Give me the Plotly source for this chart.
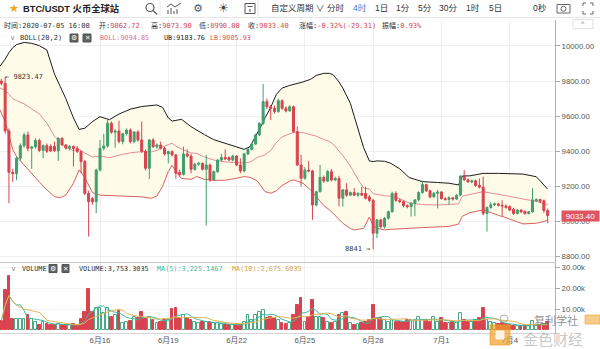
import plotly.graph_objects as go
import pandas as pd

W, H = 600, 349
MONO = "DejaVu Sans Mono, Noto Sans CJK SC, monospace"
SANS = "Liberation Sans, Noto Sans CJK SC, sans-serif"
UP = "#3f9f6d"
DOWN = "#d8434f"
VOL_UP_LINE = "#4aaa85"
MA5_C = "#3dbb9f"
MA10_C = "#e2b458"
UB_C = "#1c1c1c"
MID_C = "#e58c9c"
LB_C = "#d9605f"
FILL = "#fefbe8"
GRID = "#efefef"

# ---------------- data (4h candles, index -1 = 2020-06-11 16:00) ----------------
candle_idx = list(range(-1, 144))
opens = [
    9800, 9787, 9516, 9280, 9272, 9360, 9432, 9493, 9417, 9425,
    9462, 9405, 9432, 9428, 9428, 9402, 9474, 9436, 9418, 9428,
    9416, 9398, 9341, 9160, 9130, 9112, 9293, 9417, 9430, 9560,
    9509, 9515, 9455, 9500, 9521, 9455, 9510, 9464, 9400, 9303,
    9464, 9426, 9436, 9417, 9385, 9398, 9379, 9280, 9268, 9385,
    9373, 9297, 9326, 9331, 9297, 9322, 9237, 9284, 9350, 9365,
    9365, 9350, 9373, 9322, 9288, 9385, 9411, 9441, 9493, 9559,
    9683, 9654, 9645, 9626, 9688, 9645, 9630, 9654, 9512, 9322,
    9246, 9293, 9288, 9094, 9170, 9251, 9230, 9284, 9236, 9245,
    9132, 9180, 9150, 9165, 9150, 9160, 9160, 9140, 9120, 8933,
    9009, 8970, 9018, 9056, 9160, 9120, 9113, 9090, 9085, 9104,
    9123, 9165, 9210, 9175, 9140, 9160, 9168, 9130, 9125, 9135,
    9128, 9150, 9259, 9237, 9225, 9232, 9205, 9195, 9045, 9080,
    9095, 9100, 9092, 9088, 9085, 9070, 9045, 9065, 9058, 9045,
    9055, 9118, 9125, 9118, 9062.72,
]
highs = [
    9812, 9823.47, 9530, 9300, 9370, 9445, 9505, 9512, 9430, 9475,
    9472, 9440, 9445, 9440, 9455, 9480, 9480, 9442, 9435, 9432,
    9430, 9405, 9350, 9175, 9140, 9300, 9465, 9500, 9578, 9570,
    9525, 9574, 9505, 9530, 9530, 9515, 9520, 9569, 9410, 9470,
    9475, 9445, 9455, 9425, 9405, 9405, 9385, 9295, 9427, 9411,
    9385, 9335, 9340, 9336, 9380, 9330, 9290, 9356, 9385, 9411,
    9370, 9380, 9378, 9360, 9392, 9418, 9448, 9500, 9566, 9783,
    9700, 9664, 9660, 9700, 9695, 9655, 9662, 9660, 9540, 9380,
    9310, 9345, 9295, 9175, 9322, 9262, 9293, 9300, 9255, 9260,
    9185, 9218, 9172, 9190, 9165, 9198, 9198, 9150, 9130, 9015,
    9015, 9025, 9062, 9170, 9172, 9130, 9120, 9098, 9110, 9128,
    9172, 9232, 9215, 9180, 9168, 9180, 9172, 9138, 9142, 9140,
    9155, 9262, 9293, 9245, 9238, 9238, 9245, 9255, 9085, 9110,
    9108, 9106, 9120, 9096, 9092, 9078, 9070, 9070, 9062, 9060,
    9189, 9132, 9130, 9125, 9073.90,
]
lows = [
    9775, 9500, 9104, 9225, 9235, 9345, 9420, 9400, 9300, 9415,
    9395, 9360, 9390, 9395, 9395, 9345, 9430, 9410, 9405, 9313,
    9390, 9275, 9150, 8914, 9095, 9047, 9285, 9405, 9420, 9500,
    9420, 9445, 9440, 9490, 9445, 9445, 9455, 9390, 9290, 9242,
    9420, 9415, 9410, 9375, 9331, 9370, 9245, 9255, 9262, 9365,
    9275, 9290, 9318, 9290, 8976, 9225, 9230, 9278, 9340, 9350,
    9345, 9342, 9315, 9275, 9280, 9378, 9405, 9435, 9486, 9550,
    9640, 9578, 9615, 9620, 9635, 9622, 9625, 9505, 9315, 9199,
    9238, 9280, 9009, 9085, 9165, 9220, 9225, 9228, 9230, 9085,
    9085, 9140, 9145, 9145, 9140, 9145, 9125, 9110, 8841, 8905,
    8960, 8960, 9010, 9050, 9112, 9105, 9080, 9075, 9028, 9030,
    9115, 9158, 9168, 9132, 9135, 9075, 9125, 9118, 9095, 9118,
    9122, 9145, 9230, 9220, 9218, 9198, 9188, 9035, 8942, 9072,
    9088, 9085, 9030, 9072, 9058, 9038, 9040, 9048, 9038, 9040,
    9050, 9110, 9105, 9050, 8990.00,
]
closes = [
    9787, 9516, 9280, 9272, 9360, 9432, 9493, 9417, 9425, 9462,
    9405, 9432, 9400, 9402, 9404, 9474, 9436, 9418, 9428, 9416,
    9398, 9341, 9160, 9113, 9112, 9293, 9417, 9430, 9560, 9509,
    9515, 9455, 9500, 9521, 9455, 9510, 9464, 9400, 9303, 9464,
    9426, 9436, 9417, 9385, 9398, 9379, 9275, 9268, 9385, 9373,
    9297, 9326, 9331, 9297, 9322, 9237, 9284, 9350, 9365, 9356,
    9350, 9373, 9322, 9288, 9385, 9411, 9441, 9493, 9559, 9683,
    9654, 9645, 9626, 9688, 9645, 9630, 9654, 9512, 9322, 9246,
    9293, 9288, 9094, 9170, 9251, 9230, 9284, 9236, 9245, 9132,
    9180, 9150, 9165, 9150, 9160, 9150, 9132, 9120, 8933, 9009,
    8970, 9018, 9056, 9160, 9120, 9113, 9090, 9085, 9104, 9123,
    9165, 9210, 9175, 9140, 9160, 9168, 9130, 9125, 9135, 9128,
    9150, 9259, 9237, 9225, 9232, 9205, 9195, 9045, 9080, 9095,
    9100, 9092, 9088, 9080, 9065, 9045, 9065, 9055, 9045, 9055,
    9123, 9125, 9115, 9062.72, 9033.40,
]
volumes = [
    4600, 19200, 25900, 5200, 5200, 5200, 5200, 7300, 5200, 4100,
    2500, 4100, 3000, 2500, 2500, 3000, 2500, 2500, 2500, 3000,
    2100, 5200, 8900, 19500, 8900, 10500, 10500, 8100, 10500, 6500,
    7300, 9400, 3300, 4100, 4600, 6500, 5700, 8900, 5200, 6500,
    4900, 3300, 4100, 4900, 4900, 10000, 10500, 5700, 7300, 5700,
    4900, 4100, 3300, 4100, 4100, 4100, 3300, 3300, 3000, 2500,
    2500, 2500, 3000, 2500, 4100, 7300, 4900, 7300, 8900, 9700,
    5700, 6500, 5700, 4900, 3300, 3000, 3300, 7300, 12000, 15200,
    4100, 6500, 14400, 6500, 6500, 5700, 4100, 3700, 4100, 7300,
    8000, 8900, 3300, 2500, 3000, 3300, 4100, 4900, 12100, 5700,
    5700, 4900, 4100, 4900, 4100, 4100, 4100, 4900, 4900, 4900,
    6500, 4900, 4900, 4100, 6500, 4100, 5700, 3300, 3300, 4100,
    3300, 8100, 4900, 4100, 4100, 4900, 5700, 10500, 4900, 4100,
    3300, 3000, 3500, 2800, 2600, 2000, 2200, 2000, 2300, 2100,
    4500, 2500, 2200, 3200, 3753.3035,
]

# Bollinger band values at sample candle positions
boll_idx = [-1.35, 0, 1, 2, 3, 5, 7, 9, 11, 13, 14.5, 16, 18, 19.5, 21, 23, 25, 27.5, 30, 33,
            36, 38.5, 40, 41.5, 43, 44, 45.3, 46.5, 49, 50.5, 52.5, 55, 58, 61, 63, 64.5,
            66.5, 67.5, 68.5, 70, 71.5, 73, 75, 76, 78.5, 80.5, 82, 84, 85.5, 86.5, 88, 89,
            91, 92, 93, 94.5, 96, 97, 98, 100, 101.5, 104, 106.5, 110, 114, 117, 119.5,
            120.5, 122.5, 126, 130, 131.5, 136.5, 140, 143]
boll_ub = [9885, 9925, 9962, 9990, 10008, 10020, 10015, 10002, 9977, 9840, 9770, 9700, 9590, 9525,
           9531, 9569, 9597, 9580, 9612, 9640, 9655, 9660, 9664, 9650, 9590, 9572, 9575, 9582,
           9540, 9520, 9495, 9466, 9445, 9425, 9411, 9425, 9500, 9545, 9590, 9650, 9725, 9760,
           9775, 9780, 9795, 9810, 9832, 9844, 9844, 9835, 9795, 9760, 9673, 9600, 9525, 9420,
           9345, 9341, 9345, 9343, 9333, 9300, 9250, 9227, 9222, 9218, 9208, 9259, 9260, 9274,
           9274, 9273, 9270, 9255, 9184]
boll_mid = [9760, 9748, 9726, 9700, 9689, 9670, 9642, 9613, 9560, 9486, 9452, 9422, 9404, 9410,
            9390, 9367, 9373, 9363, 9378, 9391, 9398, 9396, 9405, 9425, 9438, 9446, 9425, 9413,
            9390, 9388, 9367, 9350, 9340, 9335, 9333, 9338, 9365, 9372, 9380, 9405, 9450, 9482,
            9502, 9508, 9506, 9495, 9486, 9467, 9455, 9440, 9402, 9375, 9316, 9276, 9240, 9190,
            9185, 9158, 9153, 9147, 9144, 9130, 9105, 9096, 9094, 9095, 9100, 9144, 9155, 9170,
            9154, 9149, 9128, 9115, 9095]
boll_lb = [9635, 9570, 9490, 9410, 9370, 9320, 9270, 9225, 9180, 9142, 9135, 9150, 9218, 9294,
           9250, 9165, 9150, 9147, 9145, 9142, 9140, 9132, 9145, 9200, 9285, 9320, 9275, 9245,
           9240, 9256, 9240, 9234, 9235, 9246, 9256, 9252, 9230, 9200, 9170, 9161, 9175, 9205,
           9230, 9237, 9218, 9180, 9140, 9090, 9066, 9045, 9010, 8990, 8960, 8952, 8955, 8961,
           9025, 8975, 8961, 8952, 8955, 8960, 8961, 8965, 8967, 8972, 8985, 9030, 9050, 9066,
           9035, 9025, 8986, 8990, 9006]

tick_idx = [25, 43, 61, 79, 97, 115, 133]
tick_text = ["6月16", "6月19", "6月22", "6月25", "6月28", "7月1", "7月4"]
price_ticks = [8800, 9000, 9200, 9400, 9600, 9800, 10000]
price_tick_text = ["8800.00", "9000.00", "9200.00", "9400.00", "9600.00", "9800.00", "10000.00"]
vol_ticks = [10000, 20000, 30000]
vol_tick_text = ["10.00k", "20.00k", "30.00k"]

n = len(candle_idx)
assert len(opens) == n and len(highs) == n and len(lows) == n and len(closes) == n and len(volumes) == n
assert len(boll_idx) == len(boll_ub) == len(boll_mid) == len(boll_lb)

vol_series = pd.Series(volumes)
ma5 = vol_series.rolling(5, min_periods=1).mean().tolist()
ma10 = vol_series.rolling(10, min_periods=1).mean().tolist()

is_up = [c >= o for o, c in zip(opens, closes)]
bar_fill = ["#ffffff" if u else DOWN for u in is_up]
bar_line = [VOL_UP_LINE if u else DOWN for u in is_up]

PRICE_RANGE = [8769, 10148]


def px(x):
    return x / W


def py(y):
    return 1 - y / H


fig = go.Figure()

# Bollinger band: upper, lower (filled to upper), mid  -> on y2 (drawn first)
fig.add_trace(go.Scatter(x=boll_idx, y=boll_ub, xaxis="x2", yaxis="y2", mode="lines",
                         line=dict(color=UB_C, width=1), hoverinfo="skip"))
fig.add_trace(go.Scatter(x=boll_idx, y=boll_lb, xaxis="x2", yaxis="y2", mode="lines",
                         line=dict(color=LB_C, width=1), fill="tonexty", fillcolor=FILL,
                         hoverinfo="skip"))
fig.add_trace(go.Scatter(x=boll_idx, y=boll_mid, xaxis="x2", yaxis="y2", mode="lines",
                         line=dict(color=MID_C, width=1), hoverinfo="skip"))

# candles on an overlaying axis so they sit above the band fill
fig.add_trace(go.Candlestick(
    x=candle_idx, open=opens, high=highs, low=lows, close=closes,
    xaxis="x2", yaxis="y3", whiskerwidth=0,
    increasing=dict(line=dict(color=UP, width=1), fillcolor=UP),
    decreasing=dict(line=dict(color=DOWN, width=1), fillcolor=DOWN),
    hoverinfo="skip",
))

fig.add_trace(go.Bar(x=candle_idx, y=volumes, xaxis="x", yaxis="y", width=0.72,
                     marker=dict(color=bar_fill, line=dict(color=bar_line, width=1)),
                     hoverinfo="skip"))
fig.add_trace(go.Scatter(x=candle_idx, y=ma5, xaxis="x", yaxis="y", mode="lines",
                         line=dict(color=MA5_C, width=1), hoverinfo="skip"))
fig.add_trace(go.Scatter(x=candle_idx, y=ma10, xaxis="x", yaxis="y", mode="lines",
                         line=dict(color=MA10_C, width=1), hoverinfo="skip"))

tickfont = dict(family=SANS, size=7.8, color="#555")
xr = [-1.357, 144.93]

fig.update_layout(
    width=W, height=H, margin=dict(l=0, r=0, t=0, b=0),
    paper_bgcolor="white", plot_bgcolor="white", showlegend=False, boxgap=0.25,
    bargap=0,
    xaxis=dict(domain=[0, 555 / W], range=xr, anchor="y", tickmode="array",
               tickvals=tick_idx, ticktext=tick_text, showgrid=True, gridcolor=GRID,
               zeroline=False, showline=True, linecolor="#d4d4d4", ticks="",
               tickfont=tickfont, fixedrange=True),
    xaxis2=dict(domain=[0, 555 / W], matches="x", anchor="y2", tickmode="array",
                tickvals=tick_idx, showticklabels=False, showgrid=True, gridcolor=GRID,
                zeroline=False, showline=True, linecolor="#c4c4c4", ticks="",
                rangeslider=dict(visible=False)),
    yaxis=dict(domain=[py(333), py(263)], range=[-1290, 32050], side="right", anchor="x",
               tickmode="array", tickvals=vol_ticks, ticktext=vol_tick_text,
               showgrid=True, gridcolor="#f4f4f4", zeroline=False, showline=True,
               linecolor="#b0b0b0", ticks="outside", ticklen=4, tickcolor="#aaa",
               tickfont=tickfont),
    yaxis2=dict(domain=[py(262), py(20)], range=PRICE_RANGE, side="right", anchor="x2",
                tickmode="array", tickvals=price_ticks, ticktext=price_tick_text,
                showgrid=True, gridcolor=GRID, zeroline=False, showline=True,
                linecolor="#b0b0b0", ticks="outside", ticklen=4, tickcolor="#aaa",
                tickfont=tickfont),
    yaxis3=dict(overlaying="y2", range=PRICE_RANGE, side="right", anchor="x2",
                showgrid=False, zeroline=False, showline=False, showticklabels=False,
                ticks=""),
)

ann = []


def txt(x, y, s, size=7, color="#333", family=MONO, anchor="left", **kw):
    d = dict(x=px(x), y=py(y), xref="paper", yref="paper", text=s, showarrow=False,
             xanchor=anchor, yanchor="middle", font=dict(family=family, size=size, color=color))
    d.update(kw)
    ann.append(d)


RED_T = "#cf4b55"

# --- toolbar ---
txt(7, 8.5, "★", size=11, color="#f2a51f", family="DejaVu Sans")
txt(21, 8.5, "<b>BTC/USDT 火币全球站</b>", size=9.3, color="#222", family=SANS)
txt(198, 8.5, "⚙", size=11, color="#555", family="DejaVu Sans", anchor="center")
txt(223, 8.5, "☀", size=12, color="#444", family="DejaVu Sans", anchor="center")
txt(269, 8.5, "自定义周期 ∨", size=8.5, color="#333", family=SANS)
for label, cx, col in [("分时", 336, "#333"), ("4时", 360, "#3b7ddd"), ("1日", 381, "#333"),
                       ("1分", 403, "#333"), ("5分", 425, "#333"), ("30分", 448, "#333"),
                       ("1时", 473, "#333"), ("5日", 495, "#333"), ("0秒", 540, "#333")]:
    txt(cx, 8.5, label, size=8.5, color=col, family=SANS, anchor="center")
txt(583, 23.5, "^", size=7, color="#777", family=SANS, anchor="center")

# --- info row ---
def kv(k, v):
    return f"{k}<span style='color:{RED_T}'>{v}</span>"


txt(2, 26, "时间:2020-07-05 16:00")
txt(97, 26, kv("开:", "9062.72"))
txt(149, 26, kv("高:", "9073.90"))
txt(197, 26, kv("低:", "8990.00"))
txt(246, 26, kv("收:", "9033.40"))
txt(297, 26, kv("涨幅:", "-0.32%(-29.31)"))
txt(380, 26, kv("振幅:", "0.93%"))

# --- BOLL legend row ---
txt(8, 38, "∨", size=7, color="#888", family="DejaVu Sans")
txt(18, 38, "BOLL(20,2)")
txt(74, 38, "⚙", size=7, color="#ffffff", family="DejaVu Sans", anchor="center")
txt(87, 38, "✕", size=6.5, color="#ffffff", family="DejaVu Sans", anchor="center")
txt(98, 38, "BOLL:9094.85", size=6.8, color="#df6f9c")
txt(162, 38, "UB:9183.76", size=6.8, color="#222")
txt(208, 38, "LB:9005.93", size=6.8, color="#dd5555")

# --- volume legend row ---
txt(9, 268.5, "∨", size=7, color="#888", family="DejaVu Sans")
txt(20, 268.5, "VOLUME", size=6.8)
txt(53, 268.5, "⚙", size=7, color="#ffffff", family="DejaVu Sans", anchor="center")
txt(65.5, 268.5, "✕", size=6.5, color="#ffffff", family="DejaVu Sans", anchor="center")
txt(77, 268.5, "VOLUME:3,753.3035", size=6.8, color="#333")
txt(155, 268.5, "MA(5):3,225.1467", size=6.8, color=MA5_C)
txt(230, 268.5, "MA(10):2,675.6035", size=6.8, color="#d9a640")

# --- extreme markers ---
ann.append(dict(x=-0.45, y=9823.47, xref="x2", yref="y2", text="← 9823.47", showarrow=False,
                xanchor="left", yanchor="middle", font=dict(family=MONO, size=7, color="#333")))
ann.append(dict(x=96.7, y=8841, xref="x2", yref="y2", text="8841 →", showarrow=False,
                xanchor="right", yanchor="middle", font=dict(family=MONO, size=7, color="#333")))

# --- last price badge ---
ann.append(dict(x=px(561), y=9033.40, xref="paper", yref="y2", text="9033.40", showarrow=False,
                xanchor="left", yanchor="middle", bgcolor="#e0545f", width=37, height=10,
                borderpad=0, align="center",
                font=dict(family=SANS, size=8, color="#ffffff")))

# --- watermark ---
txt(556, 320.5, "复利学社", size=11, color="rgba(105,105,105,0.75)", family=SANS, anchor="center")
txt(553, 339.5, "金色财经", size=15, color="rgba(150,150,150,0.55)", family=SANS, anchor="center")

shapes = []


def rect(x0, y0, x1, y1, line="#555", fill=None, lw=1):
    shapes.append(dict(type="rect", xref="paper", yref="paper", x0=px(x0), x1=px(x1),
                       y0=py(y1), y1=py(y0), line=dict(color=line, width=lw),
                       fillcolor=fill if fill else "rgba(0,0,0,0)", layer="above"))


def line(x0, y0, x1, y1, color="#555", lw=1):
    shapes.append(dict(type="line", xref="paper", yref="paper", x0=px(x0), x1=px(x1),
                       y0=py(y0), y1=py(y1), line=dict(color=color, width=lw), layer="above"))


def circle(x0, y0, x1, y1, color="#555", lw=1.2):
    shapes.append(dict(type="circle", xref="paper", yref="paper", x0=px(x0), x1=px(x1),
                       y0=py(y1), y1=py(y0), line=dict(color=color, width=lw), layer="above"))


def path(points, color="#555", lw=1):
    segs = []
    for cmd, (x, y) in points:
        segs.append(f"{cmd}{px(x):.5f},{py(y):.5f}")
    shapes.append(dict(type="path", xref="paper", yref="paper", path=" ".join(segs),
                       line=dict(color=color, width=lw), layer="above"))


# toolbar lines / icons
line(0, 17.5, 600, 17.5, color="#e6e6e6")
line(160, 1, 160, 16, color="#e4e4e4")
line(258, 1, 258, 16, color="#e4e4e4")
circle(146, 3.5, 154, 11.5)
line(153, 10.5, 157, 14.5, lw=1.3)
path([("M", (168, 14)), ("L", (168, 10)), ("M", (171, 14)), ("L", (171, 8)),
      ("M", (174, 14)), ("L", (174, 11)), ("M", (177, 14)), ("L", (177, 9)),
      ("M", (167, 7)), ("L", (171, 4)), ("L", (175, 7)), ("L", (181, 3))], lw=1)
rect(245, 3.5, 255, 13.5, line="#555")
line(247.5, 6.5, 252.5, 6.5, color="#555")
line(250, 9, 250, 12, color="#555")
rect(557, 4.5, 570, 13, line="#666")
circle(561, 6.3, 566, 11.3, color="#666", lw=1)
for (a, b, c) in [((583, 6), (583, 3), (586, 3)), ((590, 3), (593, 3), (593, 6)),
                  ((583, 11), (583, 14), (586, 14)), ((590, 14), (593, 14), (593, 11))]:
    path([("M", a), ("L", b), ("L", c)], color="#666", lw=1)
rect(573, 19.5, 593, 28.5, line="#e0e0e0")

# legend icon boxes
rect(70, 34, 78, 42, line="#555", fill="#606060")
rect(83, 34, 91, 42, line="#555", fill="#606060")
rect(49, 264.5, 57, 272.5, line="#555", fill="#606060")
rect(62, 264.5, 69, 272.5, line="#555", fill="#606060")

# watermark logo bits
rect(490, 325, 510, 345, line="rgba(240,160,40,0.75)", fill="rgba(240,160,40,0.7)")
rect(496, 331, 504, 339, line="rgba(255,255,255,0.8)", fill="rgba(255,255,255,0.8)")
rect(585, 315, 600, 324, line="rgba(240,170,60,0.7)", fill="rgba(240,170,60,0.6)")
circle(500, 315, 508, 322, color="rgba(140,140,140,0.7)", lw=1)

fig.update_layout(annotations=ann, shapes=shapes)
fig.write_html("out.html")
